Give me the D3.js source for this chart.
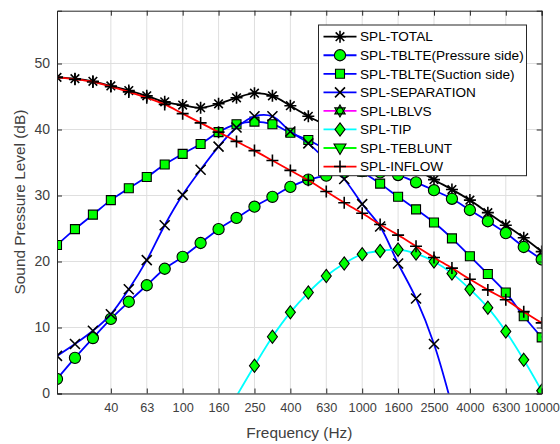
<!DOCTYPE html>
<html>
<head>
<meta charset="utf-8">
<script src="https://cdnjs.cloudflare.com/ajax/libs/d3/7.8.5/d3.min.js"></script>
<style>
  body { margin: 0; background: #fff; }
  svg { display: block; font-family: "Liberation Sans", Arial, Helvetica, sans-serif; }
</style>
</head>
<body>
<script>
const margem = {topo: 10.7, direita: 18.3, base: 50.5, esquerda: 57}
const largura = 560 - margem.esquerda - margem.direita
const altura = 444 - margem.topo - margem.base

// bandas de 1/3 de oitava (Hz)
const frequencias = ['20', '25', '31.5', '40', '50', '63', '80', '100', '125', '160',
  '200', '250', '315', '400', '500', '630', '800', '1000', '1250', '1600', '2000',
  '2500', '3150', '4000', '5000', '6300', '8000', '10000']

const rotulosX = ['40', '63', '100', '160', '250', '400', '630', '1000', '1600',
  '2500', '4000', '6300', '10000']
const rotulosY = [0, 10, 20, 30, 40, 50]

const total = [47.9, 47.7, 47.3, 46.6, 45.9, 45.1, 44.2, 43.7, 43.3, 43.9, 44.8,
  45.5, 45.1, 43.6, 42.0, 40.6, 39.2, 37.8, 36.6, 35.4, 34.0, 32.4, 30.9, 29.3,
  27.4, 25.5, 23.6, 21.5]

const pressao = [2.2, 5.4, 8.4, 11.3, 13.9, 16.4, 18.9, 20.7, 22.8, 24.9, 26.6,
  28.3, 29.8, 31.3, 32.4, 33.0, 33.5, 33.7, 33.5, 33.1, 32.0, 30.8, 29.5, 27.8,
  26.1, 24.3, 22.2, 20.3]

const succao = [22.5, 24.9, 27.1, 29.3, 31.1, 32.8, 34.7, 36.3, 37.8, 39.6, 40.8,
  41.2, 40.8, 39.5, 38.4, 36.9, 35.3, 33.6, 31.8, 29.8, 27.9, 25.9, 23.5, 20.8,
  18.1, 15.3, 11.7, 8.5]

const separacao = [5.7, 7.5, 9.5, 12.0, 15.8, 20.2, 25.5, 30.1, 33.9, 37.4, 40.3,
  42.0, 42.0, 39.7, 37.9, 35.3, 32.5, 28.7, 25.3, 19.7, 14.4, 7.5, -1.9]

const lblvs = []   // fora da faixa do grafico
const teblunt = []

const tip = [null, null, null, null, null, null, null, null, null, null, -0.4,
  4.2, 8.6, 12.3, 15.3, 17.8, 19.7, 21.1, 21.6, 21.8, 21.2, 20.0, 18.2, 15.8,
  13.0, 9.4, 5.1, 0.4]

const inflow = [47.9, 47.6, 47.2, 46.5, 45.7, 44.8, 43.8, 42.4, 41.0, 39.6, 38.2,
  36.8, 35.3, 33.8, 32.3, 30.6, 28.9, 27.3, 25.6, 24.0, 22.3, 20.6, 19.0, 17.3,
  15.7, 14.2, 12.4, 10.7]

const series = [
  {nome: 'SPL-TOTAL', valores: total, cor: '#000000', marcador: 'asterisco'},
  {nome: 'SPL-TBLTE(Pressure side)', valores: pressao, cor: '#0000ff', marcador: 'circulo'},
  {nome: 'SPL-TBLTE(Suction side)', valores: succao, cor: '#0000ff', marcador: 'quadrado'},
  {nome: 'SPL-SEPARATION', valores: separacao, cor: '#0000ff', marcador: 'xis'},
  {nome: 'SPL-LBLVS', valores: lblvs, cor: '#ff00ff', marcador: 'hexagrama'},
  {nome: 'SPL-TIP', valores: tip, cor: '#00ffff', marcador: 'losango'},
  {nome: 'SPL-TEBLUNT', valores: teblunt, cor: '#00ff00', marcador: 'triangulo'},
  {nome: 'SPL-INFLOW', valores: inflow, cor: '#ff0000', marcador: 'mais'}
]

const corEixo = '#262626'
const corTexto = '#404040'
const verde = '#00ff00'

function caminhoMarcador (tipo) {
  switch (tipo) {
    case 'circulo': return d3.arc()({innerRadius: 0, outerRadius: 5.6, startAngle: 0, endAngle: 2 * Math.PI})
    case 'quadrado': return 'M-4.5,-4.5H4.5V4.5H-4.5Z'
    case 'losango': return 'M0,-6.6L5,0L0,6.6L-5,0Z'
    case 'triangulo': return 'M-6,-4L6,-4L0,6.5Z'
    case 'xis': return 'M-5,-5L5,5M-5,5L5,-5'
    case 'mais': return 'M-6,0H6M0,-6V6'
    case 'asterisco': return 'M-6,0H6M0,-6V6M-4.3,-4.3L4.3,4.3M-4.3,4.3L4.3,-4.3'
    case 'hexagrama': {
      let p1 = [], p2 = []
      for (let k = 0; k < 3; k++) {
        let a1 = -Math.PI / 2 + k * 2 * Math.PI / 3
        let a2 = Math.PI / 2 + k * 2 * Math.PI / 3
        p1.push([6 * Math.cos(a1), 6 * Math.sin(a1)])
        p2.push([6 * Math.cos(a2), 6 * Math.sin(a2)])
      }
      return 'M' + p1.join('L') + 'Z M' + p2.join('L') + 'Z'
    }
  }
}

function desenharMarcador (sel, tipo) {
  var aberto = (tipo === 'xis' || tipo === 'mais' || tipo === 'asterisco')
  sel.append('path')
    .attr('d', caminhoMarcador(tipo))
    .attr('fill', aberto ? 'none' : verde)
    .attr('stroke', '#000')
    .attr('stroke-width', aberto ? 1.6 : 1.1)
}

var meuSVG = d3.select('body')
  .append('svg')
    .attr('width', 560)
    .attr('height', 444)

var grupo = meuSVG.append('g')
  .attr('transform', 'translate(' + margem.esquerda + ',' + margem.topo + ')')

var escalaX = d3.scalePoint()
  .domain(frequencias)
  .range([0, largura])

var escalaY = d3.scaleLinear()
  .domain([0, 58])
  .range([altura, 0])

// grade
grupo.append('g')
  .selectAll('line.gx')
  .data(rotulosX)
  .join('line')
    .attr('x1', d => escalaX(d)).attr('x2', d => escalaX(d))
    .attr('y1', 0).attr('y2', altura)
    .attr('stroke', '#dfdfdf')
    .attr('stroke-width', 1)

grupo.append('g')
  .selectAll('line.gy')
  .data(rotulosY)
  .join('line')
    .attr('x1', 0).attr('x2', largura)
    .attr('y1', d => escalaY(d)).attr('y2', d => escalaY(d))
    .attr('stroke', '#dfdfdf')
    .attr('stroke-width', 1)

meuSVG.append('defs').append('clipPath')
  .attr('id', 'recorte')
  .append('rect')
    .attr('x', 0).attr('y', 0)
    .attr('width', largura).attr('height', altura)

var geradorLinha = d3.line()
  .defined(d => d.v != null)
  .x(d => escalaX(d.f))
  .y(d => escalaY(d.v))
  .curve(d3.curveCatmullRom.alpha(0.5))

var grupoDados = grupo.append('g').attr('clip-path', 'url(#recorte)')

series.forEach(function (s) {
  var pontos = s.valores.map((v, i) => ({f: frequencias[i], v: v}))
  grupoDados.append('path')
    .attr('d', geradorLinha(pontos))
    .attr('fill', 'none')
    .attr('stroke', s.cor)
    .attr('stroke-width', 1.8)

  pontos.filter(d => d.v != null && d.v >= 0).forEach(function (d) {
    var m = grupoDados.append('g')
      .attr('transform', 'translate(' + escalaX(d.f) + ',' + escalaY(d.v) + ')')
    desenharMarcador(m, s.marcador)
  })
})

// eixos (ticks para dentro, caixa fechada)
var eixoBase = d3.axisBottom(escalaX).tickValues(rotulosX).tickSize(-5).tickPadding(9)
var eixoTopo = d3.axisTop(escalaX).tickValues(rotulosX).tickSize(-5).tickFormat('')
var eixoEsquerda = d3.axisLeft(escalaY).tickValues(rotulosY).tickSize(-5).tickPadding(7)
var eixoDireita = d3.axisRight(escalaY).tickValues(rotulosY).tickSize(-5).tickFormat('')

var gBase = grupo.append('g').attr('transform', 'translate(0,' + altura + ')').call(eixoBase)
var gTopo = grupo.append('g').call(eixoTopo)
var gEsq = grupo.append('g').call(eixoEsquerda)
var gDir = grupo.append('g').attr('transform', 'translate(' + largura + ',0)').call(eixoDireita)

;[gBase, gTopo, gEsq, gDir].forEach(function (g) {
  g.select('.domain').attr('stroke', corEixo).attr('stroke-width', 1)
  g.selectAll('.tick line').attr('stroke', corEixo)
  g.selectAll('.tick text').attr('fill', corTexto).style('font-family', null)
})
gBase.selectAll('.tick text').style('font-size', '12.7px')
gEsq.selectAll('.tick text').style('font-size', '14px')

grupo.append('text')
  .attr('x', largura / 2)
  .attr('y', altura + 44.5)
  .attr('text-anchor', 'middle')
  .attr('fill', corTexto)
  .style('font-size', '15.4px')
  .text('Frequency (Hz)')

grupo.append('text')
  .attr('transform', 'translate(' + (25 - margem.esquerda) + ',' + (altura / 2) + ') rotate(-90)')
  .attr('text-anchor', 'middle')
  .attr('fill', corTexto)
  .style('font-size', '15.4px')
  .text('Sound Pressure Level (dB)')

// legenda
var legenda = meuSVG.append('g').attr('transform', 'translate(318.5,25)')

legenda.append('rect')
  .attr('width', 208)
  .attr('height', 150.7)
  .attr('fill', '#fff')
  .attr('stroke', corEixo)
  .attr('stroke-width', 1)

series.forEach(function (s, i) {
  var linha = legenda.append('g')
    .attr('transform', 'translate(0,' + (11.7 + i * 18.55) + ')')
  linha.append('line')
    .attr('x1', 5).attr('x2', 38)
    .attr('stroke', s.cor)
    .attr('stroke-width', 1.8)
  var m = linha.append('g').attr('transform', 'translate(21.5,0)')
  desenharMarcador(m, s.marcador)
  linha.append('text')
    .attr('x', 41.5)
    .attr('y', 4.7)
    .attr('fill', '#000')
    .style('font-size', '13.6px')
    .text(s.nome)
})
</script>
</body>
</html>
